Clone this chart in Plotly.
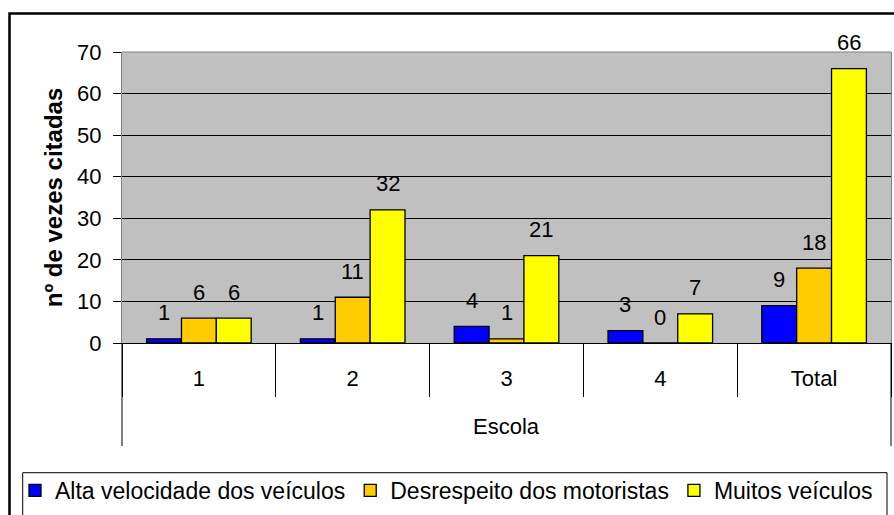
import plotly.graph_objects as go

# Chart data
categories = ["1", "2", "3", "4", "Total"]
series_names = ["Alta velocidade dos veículos", "Desrespeito dos motoristas", "Muitos veículos"]
alta_velocidade = [1, 1, 4, 3, 9]
desrespeito = [6, 11, 1, 0, 18]
muitos_veiculos = [6, 32, 21, 7, 66]
y_ticks = [0, 10, 20, 30, 40, 50, 60, 70]
x_title = "Escola"
y_title = "nº de vezes citadas"

colors = ["#0000FF", "#FFCC00", "#FFFF00"]
series_values = [alta_velocidade, desrespeito, muitos_veiculos]

# Canvas geometry
W, H = 894, 515
L, R, T, B = 122, 3, 52, 172
PLOT_W = W - L - R
PLOT_H = H - T - B
BARGAP = 0.32
FONT = "Arial, Liberation Sans, sans-serif"


def px_x(px):
    return (px - L) / PLOT_W


def px_y(py):
    return (H - B - py) / PLOT_H


fig = go.Figure()
for name, vals, col in zip(series_names, series_values, colors):
    fig.add_bar(
        x=categories, y=vals, name=name,
        marker=dict(color=col, line=dict(color="black", width=1.3)),
    )

# value labels above each bar
n = len(series_values)
bar_w = (1 - BARGAP) / n
for k, vals in enumerate(series_values):
    for i, v in enumerate(vals):
        fig.add_annotation(
            x=i + (k - (n - 1) / 2) * bar_w, y=v, xref="x", yref="y",
            text=str(v), showarrow=False, yshift=26,
            font=dict(size=22, color="black"),
        )

# category group label
fig.add_annotation(
    x=0.5, y=px_y(427), xref="paper", yref="paper", text=x_title,
    showarrow=False, font=dict(size=22, color="black"),
    xanchor="center", yanchor="middle",
)

shapes = [
    # plot top border
    dict(type="line", xref="paper", yref="paper", x0=0, x1=1, y0=1, y1=1,
         line=dict(color="#808080", width=1)),
    # outer group dividers of the category axis
    dict(type="line", xref="paper", yref="paper", x0=0, x1=0, y0=0, y1=px_y(446),
         line=dict(color="black", width=1)),
    dict(type="line", xref="paper", yref="paper", x0=1, x1=1, y0=0, y1=px_y(446),
         line=dict(color="black", width=1)),
    # legend frame
    dict(type="rect", xref="paper", yref="paper", x0=px_x(22.7), x1=px_x(887),
         y0=px_y(540), y1=px_y(472.7), line=dict(color="black", width=1)),
    # chart frame
    dict(type="rect", xref="paper", yref="paper", x0=px_x(9.5), x1=px_x(920),
         y0=px_y(540), y1=px_y(13.5), line=dict(color="black", width=2.5)),
]

fig.update_layout(
    width=W, height=H,
    margin=dict(l=L, r=R, t=T, b=B, autoexpand=False),
    paper_bgcolor="white", plot_bgcolor="#C0C0C0",
    barmode="group", bargap=BARGAP, bargroupgap=0,
    font=dict(family=FONT, size=22, color="black"),
    xaxis=dict(
        type="category", tickson="boundaries", ticks="outside", ticklen=53,
        tickcolor="black", tickwidth=1, showgrid=False, showline=True,
        linecolor="black", linewidth=1, ticklabelstandoff=16,
        tickfont=dict(size=22), range=[-0.5, 4.5],
    ),
    yaxis=dict(
        range=[0, 70], tickvals=y_ticks, ticks="outside", ticklen=8,
        tickcolor="black", tickwidth=1, showgrid=True, gridcolor="black",
        gridwidth=1, zeroline=False, showline=True, linecolor="#808080",
        mirror=True, ticklabelstandoff=7, tickfont=dict(size=22),
        title=dict(text=y_title, font=dict(size=24, weight="bold"), standoff=7),
    ),
    showlegend=True,
    legend=dict(
        orientation="h", x=px_x(15), y=px_y(469), xanchor="left", yanchor="top",
        font=dict(size=23), bgcolor="rgba(0,0,0,0)", traceorder="normal",
    ),
    shapes=shapes,
)

fig.write_html("out.html")
